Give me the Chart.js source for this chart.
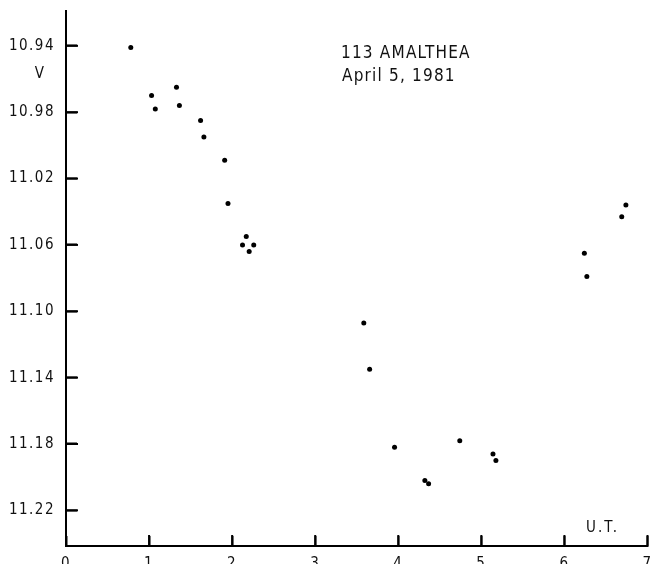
<!DOCTYPE html>
<html>
<head>
<meta charset="utf-8">
<script src="https://cdn.jsdelivr.net/npm/chart.js@4/dist/chart.umd.min.js"></script>
<style>
  html, body { margin: 0; padding: 0; background: #fff; overflow: hidden; }
  #wrap { width: 650px; height: 564px; }
</style>
</head>
<body>
<div id="wrap"><canvas id="c" width="650" height="564"></canvas></div>
<script>
// Universal time (hours) and V magnitude
const utHours = [0.78, 1.03, 1.075, 1.33, 1.365, 1.62, 1.66, 1.91, 1.95, 2.125, 2.17, 2.205, 2.26,
                 3.585, 3.655, 3.955, 4.32, 4.365, 4.74, 5.14, 5.175, 6.24, 6.27, 6.69, 6.74];
const vMag    = [10.941, 10.970, 10.978, 10.965, 10.976, 10.985, 10.995, 11.009, 11.035, 11.060, 11.055, 11.064, 11.060,
                 11.107, 11.135, 11.182, 11.202, 11.204, 11.178, 11.186, 11.190, 11.065, 11.079, 11.043, 11.036];
const yTickValues = [10.94, 10.98, 11.02, 11.06, 11.10, 11.14, 11.18, 11.22];
const yTickLabels = ["10.94", "10.98", "11.02", "11.06", "11.10", "11.14", "11.18", "11.22"];
const xTickValues = [0, 1, 2, 3, 4, 5, 6, 7];
const xTickLabels = ["0", "1", "2", "3", "4", "5", "6", "7"];
const titleLines = ["113 AMALTHEA", "April 5, 1981"];
const yAxisName = "V";
const xAxisName = "U.T.";

const FONT = "DejaVu Sans Condensed";

const textPlugin = {
  id: 'textPlugin',
  beforeDraw(chart) {
    chart.ctx.letterSpacing = '1.5px';
  },
  afterDraw(chart) {
    const ctx = chart.ctx;
    const xs = chart.scales.x, ys = chart.scales.y;
    ctx.save();
    ctx.letterSpacing = '0px';
    ctx.strokeStyle = '#000';
    ctx.lineWidth = 2;
    ctx.lineCap = 'butt';
    for (let i = 0; i < yTickValues.length; i++) {
      const py = ys.getPixelForValue(yTickValues[i]);
      ctx.beginPath();
      ctx.moveTo(xs.left, py);
      ctx.lineTo(xs.left + 12, py);
      ctx.stroke();
    }
    for (let i = 0; i < xTickValues.length; i++) {
      const px = xs.getPixelForValue(xTickValues[i]);
      ctx.beginPath();
      ctx.moveTo(px, ys.bottom);
      ctx.lineTo(px, ys.bottom - 11);
      ctx.stroke();
    }
    ctx.fillStyle = '#111';
    ctx.letterSpacing = '1.2px';
    ctx.font = '17px "' + FONT + '"';
    ctx.textBaseline = 'middle';
    ctx.textAlign = 'left';
    ctx.fillText(titleLines[0], 341, 54);
    ctx.fillText(titleLines[1], 342, 77);
    ctx.font = '15px "' + FONT + '"';
    ctx.textAlign = 'center';
    ctx.fillText(yAxisName, 40, 74);
    ctx.textAlign = 'left';
    ctx.letterSpacing = '2px';
    ctx.fillText(xAxisName, 586, 528);
    ctx.restore();
    ctx.letterSpacing = '0px';
  }
};

new Chart(document.getElementById('c'), {
  type: 'scatter',
  data: {
    datasets: [{
      data: utHours.map((x, i) => ({ x: x, y: vMag[i] })),
      backgroundColor: '#000',
      borderColor: '#000',
      pointRadius: 2.5,
      pointBorderWidth: 0,
      pointHoverRadius: 2.5
    }]
  },
  options: {
    responsive: false,
    animation: false,
    devicePixelRatio: 1,
    layout: { padding: { top: 11, right: 2, left: 0, bottom: 0 } },
    plugins: { legend: { display: false }, tooltip: { enabled: false } },
    scales: {
      x: {
        type: 'linear',
        min: 0, max: 7,
        afterBuildTicks: s => { s.ticks = xTickValues.map(v => ({ value: v })); },
        afterFit: s => { s.height = 18; s.paddingLeft = 0; s.paddingRight = 0; },
        grid: { drawOnChartArea: false, drawTicks: true, tickLength: -10, tickWidth: 2, tickColor: '#000' },
        border: { display: true, color: '#000', width: 2 },
        ticks: {
          color: '#111', padding: 19, maxRotation: 0, autoSkip: false,
          font: { family: FONT, size: 15 },
          callback: (v, i) => xTickLabels[i]
        }
      },
      y: {
        type: 'linear',
        reverse: true,
        min: 10.919, max: 11.2415,
        afterBuildTicks: s => { s.ticks = yTickValues.map(v => ({ value: v })); },
        afterFit: s => { s.width = 66; s.paddingTop = 0; s.paddingBottom = 0; },
        grid: { drawOnChartArea: false, drawTicks: true, tickLength: -11, tickWidth: 2, tickColor: '#000' },
        border: { display: true, color: '#000', width: 2 },
        ticks: {
          color: '#111', padding: 22, autoSkip: false,
          font: { family: FONT, size: 15 },
          callback: (v, i) => yTickLabels[i]
        }
      }
    }
  },
  plugins: [textPlugin]
});
</script>
</body>
</html>
